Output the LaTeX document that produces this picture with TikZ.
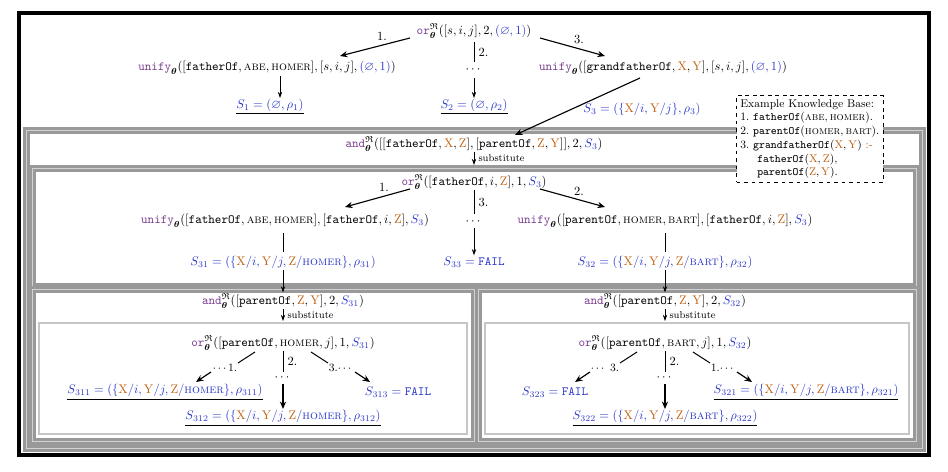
\documentclass[tikz,border=0pt]{standalone}
\usepackage{amsmath,amssymb,bm}
\usetikzlibrary{arrows.meta}
\definecolor{pur}{HTML}{7A3E8E}
\definecolor{org}{HTML}{C06010}
\definecolor{blu}{HTML}{2A36C8}
\newcommand\kOr{\texttt{\color{pur}or}^{\mathfrak{R}}_{\bm\theta}}
\newcommand\kAnd{\texttt{\color{pur}and}^{\mathfrak{R}}_{\bm\theta}}
\newcommand\kUni{\texttt{\color{pur}unify}_{\bm\theta}}
\newcommand\vX{\textcolor{org}{\mathrm{X}}}
\newcommand\vY{\textcolor{org}{\mathrm{Y}}}
\newcommand\vZ{\textcolor{org}{\mathrm{Z}}}
\newcommand\cst[1]{\textsc{\MakeLowercase{#1}}}
\newcommand\tf{\texttt{fatherOf}}
\newcommand\tp{\texttt{parentOf}}
\newcommand\tg{\texttt{grandfatherOf}}
\newcommand\Sv[1]{\textcolor{blu}{S_{#1}}}
\newcommand\sub[3]{\textcolor{blu}{S_{#1} = (\{\vX/i, \vY/j, \vZ/\textsc{\MakeLowercase{#2}}\}, \rho_{#3})}}
\begin{document}
\begin{tikzpicture}[x=0.8pt,y=-0.8pt,
  lab/.style={inner sep=1pt},
  arr/.style={-{Stealth[length=6pt,width=5pt]},line width=0.9pt},
  sarr/.style={-{Stealth[length=5pt,width=3.5pt]},line width=0.6pt},
  fr/.style={draw=gray!80,line width=2.4pt,double=gray!35,double distance=0.8pt}]
\useasboundingbox (0,0) rectangle (948,472);
% frames
\draw[line width=3pt] (19,13) rectangle (929,455);
\draw[fr] (26,130) rectangle (922,448);
\draw[fr] (32,168) rectangle (916,286);
\draw[fr] (32,289) rectangle (474,441);
\draw[fr] (478,289) rectangle (916,441);
\draw[draw=gray!45,line width=2pt] (39,323) rectangle (467,434);
\draw[draw=gray!45,line width=2pt] (485,323) rectangle (909,434);
% top level
\node[lab] (or) at (474,31) {$\kOr([s,i,j],2,\textcolor{blu}{(\varnothing,1)})$};
\node[lab] (u1) at (267,68) {$\kUni([\tf,\cst{ABE},\cst{HOMER}],[s,i,j],\textcolor{blu}{(\varnothing,1)})$};
\node[lab] (d2) at (474,70) {$\cdots$};
\node[lab] (u3) at (663,68) {$\kUni([\tg,\vX,\vY],[s,i,j],\textcolor{blu}{(\varnothing,1)})$};
\node[lab] (s1) at (270,107) {\underline{$\textcolor{blu}{S_1=(\varnothing,\rho_1)}$}};
\node[lab] (s2) at (474,107) {\underline{$\textcolor{blu}{S_2=(\varnothing,\rho_2)}$}};
\draw[arr] (410,38) -- node[above,pos=0.4]{1.} (340,56);
\draw[line width=0.8pt] (474,42) -- node[right]{2.} (474,62);
\draw[sarr] (474,78) -- (s2);
\draw[arr] (540,38) -- node[above,pos=0.6]{3.} (605,56);
\draw[sarr] (u1.south -| 280,0) -- (280,98);
\draw[arr] (640,78) -- node[right=6pt,pos=0.55]{$\textcolor{blu}{S_3=(\{\vX/i,\vY/j\},\rho_3)}$} (515,135);
% KB
\node[draw,dashed,line width=1pt,align=left,anchor=north west,inner sep=3pt,fill=white,font=\small] (kb) at (736,95) {Example Knowledge Base:\\
1.~$\tf(\cst{ABE},\cst{HOMER})$.\\
2.~$\tp(\cst{HOMER},\cst{BART})$.\\
3.~$\tg(\vX,\vY)$ \textcolor{org}{:-}\\
\hspace{1.5em}$\tf(\vX,\vZ)$,\\
\hspace{1.5em}$\tp(\vZ,\vY)$.};
% and level
\node[lab] (and) at (474,144) {$\kAnd([[\tf,\vX,\vZ],[\tp,\vZ,\vY]],2,\Sv{3})$};
\node[lab] (or2) at (474,182) {$\kOr([\tf,i,\vZ],1,\Sv{3})$};
\draw[sarr] (474,152) -- node[right,font=\footnotesize]{substitute} (474,165);
\node[lab] (ul) at (285,221) {$\kUni([\tf,\cst{ABE},\cst{HOMER}],[\tf,i,\vZ],\Sv{3})$};
\node[lab] (dd) at (474,222) {$\cdots$};
\node[lab] (ur) at (665,221) {$\kUni([\tp,\cst{HOMER},\cst{BART}],[\tf,i,\vZ],\Sv{3})$};
\draw[arr] (410,189) -- node[above,pos=0.4]{1.} (345,207);
\draw[line width=0.8pt] (474,190) -- node[right]{3.} (474,214);
\draw[arr] (540,189) -- node[above,pos=0.6]{2.} (605,207);
\node[lab] (s31) at (283,262) {$\sub{31}{HOMER}{31}$};
\node[lab] (s33) at (474,262) {$\textcolor{blu}{S_{33}=\texttt{FAIL}}$};
\node[lab] (s32) at (665,262) {$\sub{32}{BART}{32}$};
\draw[line width=0.8pt] (283,233) -- (283,252);
\draw[line width=0.8pt] (665,233) -- (665,252);
\draw[sarr] (474,228) -- (s33);
% left lower
\node[lab] (andl) at (283,301) {$\kAnd([\tp,\vZ,\vY],2,\Sv{31})$};
\node[lab] (orl) at (283,343) {$\kOr([\tp,\cst{HOMER},j],1,\Sv{31})$};
\draw[sarr] (s31) -- (andl);
\draw[sarr] (283,309) -- node[right,font=\footnotesize]{substitute} (283,321);
\node[lab] (s311) at (165,392) {\underline{$\sub{311}{HOMER}{311}$}};
\node[lab] (s313) at (398,392) {$\textcolor{blu}{S_{313}=\texttt{FAIL}}$};
\node[lab] (s312) at (283,418) {\underline{$\sub{312}{HOMER}{312}$}};
\draw[line width=0.8pt] (255,352) -- (238,363);
\node[lab,font=\small] at (225,368) {$\cdots$1.};
\draw[arr] (211,372) -- (196,382);
\draw[line width=0.8pt] (283,351) -- node[right]{2.} (283,372);
\node[lab] at (283,378) {$\cdots$};
\draw[arr] (283,384) -- (s312);
\draw[line width=0.8pt] (311,352) -- (328,363);
\node[lab,font=\small] at (341,368) {3.$\cdots$};
\draw[arr] (355,372) -- (370,382);
% right lower
\node[lab] (andr) at (665,301) {$\kAnd([\tp,\vZ,\vY],2,\Sv{32})$};
\node[lab] (orr) at (665,343) {$\kOr([\tp,\cst{BART},j],1,\Sv{32})$};
\draw[sarr] (s32) -- (andr);
\draw[sarr] (665,309) -- node[right,font=\footnotesize]{substitute} (665,321);
\node[lab] (s323) at (555,392) {$\textcolor{blu}{S_{323}=\texttt{FAIL}}$};
\node[lab] (s321) at (806,392) {\underline{$\sub{321}{BART}{321}$}};
\node[lab] (s322) at (665,418) {\underline{$\sub{322}{BART}{322}$}};
\draw[line width=0.8pt] (637,352) -- (620,363);
\node[lab,font=\small] at (605,368) {$\cdots$\ 3.};
\draw[arr] (590,372) -- (575,382);
\draw[line width=0.8pt] (665,351) -- node[right]{2.} (665,372);
\node[lab] at (665,378) {$\cdots$};
\draw[arr] (665,384) -- (s322);
\draw[line width=0.8pt] (693,352) -- (710,363);
\node[lab,font=\small] at (723,368) {1.$\cdots$};
\draw[arr] (737,372) -- (752,382);
\end{tikzpicture}
\end{document}
